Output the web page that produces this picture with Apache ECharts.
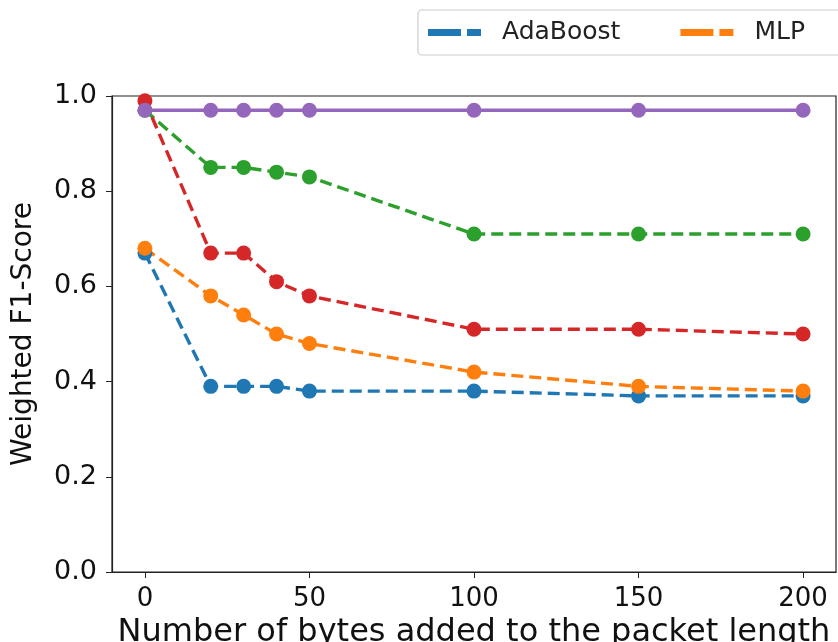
<!DOCTYPE html>
<html>
<head>
<meta charset="utf-8">
<script src="https://cdn.jsdelivr.net/npm/echarts@6/dist/echarts.min.js"></script>
<style>
html,body{margin:0;padding:0;background:#fff;}
#chart{width:838px;height:642px;}
</style>
</head>
<body>
<div id="chart"></div>
<script>
const xValues = [0, 20, 30, 40, 50, 100, 150, 200];
const adaBoost = [0.67, 0.39, 0.39, 0.39, 0.38, 0.38, 0.37, 0.37];
const mlp = [0.68, 0.58, 0.54, 0.50, 0.48, 0.42, 0.39, 0.38];
const greenSeries = [0.97, 0.85, 0.85, 0.84, 0.83, 0.71, 0.71, 0.71];
const redSeries = [0.99, 0.67, 0.67, 0.61, 0.58, 0.51, 0.51, 0.50];
const purpleSeries = [0.97, 0.97, 0.97, 0.97, 0.97, 0.97, 0.97, 0.97];
const xTicks = [0, 50, 100, 150, 200];

const FONT = 'DejaVu Sans';
function pts(arr){ return xValues.map((x,i)=>[x, arr[i]]); }
function mk(name, data, color, dashed){
  return {
    name: name, type: 'line', data: pts(data),
    symbol: 'circle', symbolSize: 15,
    itemStyle: {color: color},
    lineStyle: {color: color, width: 3.4, type: dashed ? [12, 6] : 'solid'},
    emphasis: {disabled: true},
    animation: false
  };
}
const dashIcon = 'path://M0,0 H33 V7 H0 Z M39,0 H53 V7 H39 Z';
const chart = echarts.init(document.getElementById('chart'));
chart.setOption({
  backgroundColor: '#fff',
  animation: false,
  textStyle: {fontFamily: FONT},
  grid: {left: 112, right: 2, top: 96, bottom: 70, outerBoundsMode: 'none', containLabel: false,
         show: true, borderColor: '#222', borderWidth: 1.2, backgroundColor: 'transparent'},
  legend: {
    data: [{name: 'AdaBoost', icon: dashIcon}, {name: 'MLP', icon: dashIcon}],
    orient: 'horizontal',
    left: 418, top: 10, width: 900,
    itemWidth: 53, itemHeight: 7, itemGap: 60,
    padding: [10, 80, 10, 10],
    borderColor: '#ccc', borderWidth: 1.2, borderRadius: 4,
    textStyle: {fontFamily: FONT, fontSize: 25, color: '#222', padding: [0, 0, 0, 16]},
    selectedMode: false
  },
  xAxis: {
    type: 'value', min: -10, max: 210,
    name: 'Number of bytes added to the packet length',
    nameLocation: 'middle', nameGap: 37,
    nameTextStyle: {fontFamily: FONT, fontSize: 32, color: '#111'},
    axisLine: {show: true, onZero: false, lineStyle: {color: '#222', width: 1.2}},
    axisTick: {show: true, length: 6, customValues: xTicks, lineStyle: {color: '#222'}},
    axisLabel: {customValues: xTicks, fontFamily: FONT, fontSize: 26, color: '#111', margin: 14},
    splitLine: {show: false}
  },
  yAxis: {
    type: 'value', min: 0, max: 1, interval: 0.2,
    name: 'Weighted F1-Score',
    nameLocation: 'middle', nameGap: 74,
    nameTextStyle: {fontFamily: FONT, fontSize: 28, color: '#111'},
    axisLine: {show: true, onZero: false, lineStyle: {color: '#222', width: 1.2}},
    axisTick: {show: true, length: 6, lineStyle: {color: '#222'}},
    axisLabel: {fontFamily: FONT, fontSize: 27, color: '#111', margin: 15, formatter: v => v.toFixed(1)},
    splitLine: {show: false}
  },
  series: [
    mk('AdaBoost', adaBoost, '#1f77b4', true),
    mk('MLP', mlp, '#ff7f0e', true),
    mk('Series 3', greenSeries, '#2ca02c', true),
    mk('Series 4', redSeries, '#d62728', true),
    mk('Series 5', purpleSeries, '#9467bd', false)
  ]
});
</script>
</body>
</html>
